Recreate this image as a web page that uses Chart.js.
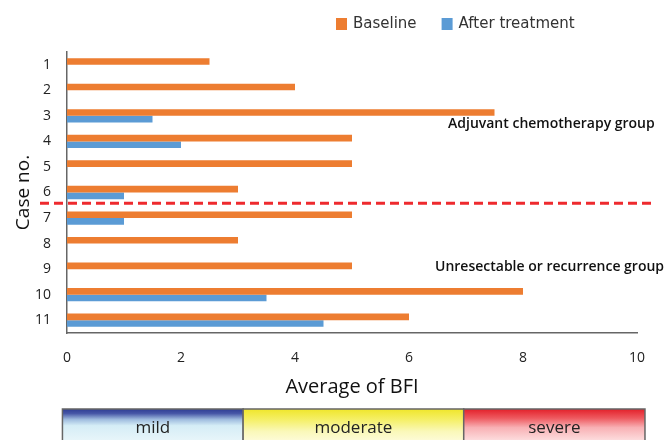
<!DOCTYPE html>
<html>
<head>
<meta charset="utf-8">
<script src="https://cdn.jsdelivr.net/npm/chart.js@4.4.1/dist/chart.umd.min.js"></script>
<style>
  html, body { margin: 0; padding: 0; background: #fff; }
  #wrap { width: 666px; height: 440px; }
</style>
</head>
<body>
<div id="wrap"><canvas id="bfiChart" width="666" height="440"></canvas></div>
<script>
const cases = ["1", "2", "3", "4", "5", "6", "7", "8", "9", "10", "11"];
const baseline = [2.5, 4, 7.5, 5, 5, 3, 5, 3, 5, 8, 6];
const afterTreatment = [0, 0, 1.5, 2, 0, 1, 1, 0, 0, 3.5, 4.5];
const xTicks = [0, 2, 4, 6, 8, 10];
const groupNames = ["Adjuvant chemotherapy group", "Unresectable or recurrence group"];
const severityLabels = ["mild", "moderate", "severe"];
// band edges in BFI units
const severityEdges = [-0.08, 3.09, 6.96, 10.14];

const fontMain = "'Open Sans', 'Noto Sans', sans-serif";

const overlay = {
  id: "overlay",
  afterDraw(chart) {
    const { ctx } = chart;
    const x = chart.scales.x;
    const y = chart.scales.y;
    ctx.save();

    // legend
    ctx.font = "15px 'DejaVu Sans', sans-serif";
    ctx.textBaseline = "middle";
    let lx = 336;
    chart.data.datasets.forEach((ds) => {
      ctx.fillStyle = ds.backgroundColor;
      ctx.fillRect(lx, 18, 11, 12);
      ctx.fillStyle = "#333";
      ctx.textAlign = "left";
      ctx.fillText(ds.label, lx + 17, 24);
      lx += 17 + ctx.measureText(ds.label).width + 25;
    });

    // group divider between case 6 and 7
    const yDiv = (y.getPixelForTick(5) + y.getPixelForTick(6)) / 2 - 2;
    ctx.strokeStyle = "#ee2a2e";
    ctx.lineWidth = 3;
    ctx.setLineDash([9, 5]);
    ctx.beginPath();
    ctx.moveTo(40, yDiv);
    ctx.lineTo(652, yDiv);
    ctx.stroke();
    ctx.setLineDash([]);

    // group names
    ctx.font = "600 14px " + fontMain;
    ctx.fillStyle = "#111";
    ctx.textAlign = "left";
    ctx.fillText(groupNames[0], 448, y.getPixelForTick(2) + 8);
    ctx.fillText(groupNames[1], 435, y.getPixelForTick(8) - 2);

    // severity bar
    const top = 409;
    const bottom = 446;
    const stops = [
      [[0, "#2e3d94"], [0.12, "#4656a6"], [0.28, "#9ebbde"], [0.45, "#d5edf6"], [1, "#eef8fb"]],
      [[0, "#f0e62a"], [0.3, "#f5f06a"], [0.6, "#faf8b8"], [1, "#fffde8"]],
      [[0, "#e3202a"], [0.25, "#ee5a60"], [0.5, "#f8b0b4"], [1, "#fff0f0"]]
    ];
    severityLabels.forEach((label, i) => {
      const x0 = x.getPixelForValue(severityEdges[i]);
      const x1 = x.getPixelForValue(severityEdges[i + 1]);
      const g = ctx.createLinearGradient(0, top, 0, bottom);
      stops[i].forEach(([at, c]) => g.addColorStop(at, c));
      ctx.fillStyle = g;
      ctx.fillRect(x0, top, x1 - x0, bottom - top);
      ctx.strokeStyle = "#666";
      ctx.lineWidth = 1.5;
      ctx.strokeRect(x0, top, x1 - x0, bottom - top);
      ctx.fillStyle = "#222";
      ctx.font = "17px " + fontMain;
      ctx.textAlign = "center";
      ctx.fillText(label, (x0 + x1) / 2, 428);
    });

    ctx.restore();
  }
};

new Chart(document.getElementById("bfiChart"), {
  type: "bar",
  data: {
    labels: cases,
    datasets: [
      {
        label: "Baseline",
        data: baseline,
        backgroundColor: "#ed7d31",
        categoryPercentage: 0.52,
        barPercentage: 1
      },
      {
        label: "After treatment",
        data: afterTreatment,
        backgroundColor: "#5b9bd5",
        categoryPercentage: 0.52,
        barPercentage: 1
      }
    ]
  },
  options: {
    indexAxis: "y",
    responsive: false,
    animation: false,
    devicePixelRatio: 1,
    layout: { padding: { top: 52, right: 29, left: 8, bottom: 39 } },
    plugins: {
      legend: { display: false },
      tooltip: { enabled: false }
    },
    scales: {
      x: {
        min: 0,
        max: 10,
        afterBuildTicks: (scale) => {
          scale.ticks = xTicks.map((value) => ({ value }));
        },
        afterFit: (scale) => {
          scale.height = 68;
        },
        grid: { display: false, drawTicks: false },
        border: { display: true, color: "#666", width: 1.5 },
        ticks: { color: "#222", padding: 17, font: { family: fontMain, size: 14 } },
        title: {
          display: true,
          text: "Average of BFI",
          color: "#111",
          padding: { top: 4, bottom: 2 },
          font: { family: fontMain, size: 20 }
        }
      },
      y: {
        afterFit: (scale) => {
          scale.width = 59;
        },
        grid: { display: false, drawTicks: false },
        border: { display: true, color: "#666", width: 1.5 },
        ticks: { color: "#222", padding: 16, font: { family: fontMain, size: 14 } },
        title: {
          display: true,
          text: "Case no.",
          color: "#111",
          padding: { top: 4, bottom: 4 },
          font: { family: fontMain, size: 19 }
        }
      }
    }
  },
  plugins: [overlay]
});
</script>
</body>
</html>
